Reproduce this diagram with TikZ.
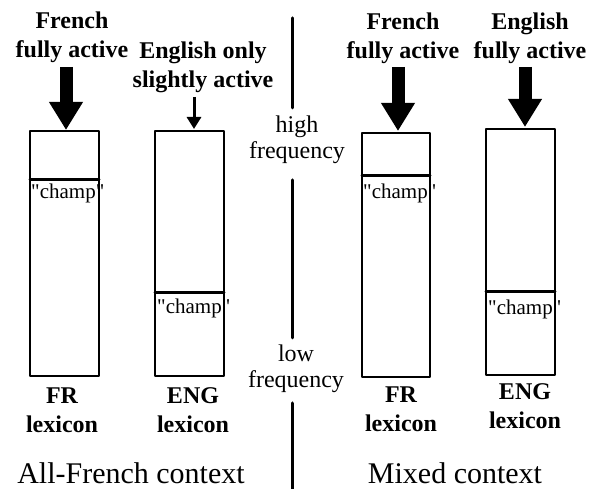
\documentclass[tikz,border=0pt]{standalone}
\usepackage{fontspec}
\setmainfont{Liberation Serif}
\usepackage{tikz}
\usepackage{tkz-euclide}
\usetikzlibrary{arrows.meta}

\newcommand{\champword}{\textquotedbl champ\textquotedbl}

\tikzset{
  lbl/.style={font=\fontsize{24}{29}\selectfont\bfseries, align=center, inner sep=0pt},
  freq/.style={font=\fontsize{24}{26}\selectfont, align=center, inner sep=0pt},
  ctx/.style={font=\fontsize{30}{34}\selectfont, inner sep=0pt},
  word/.style={font=\fontsize{21}{22}\selectfont, anchor=west, inner sep=0pt},
  bigarrow/.style={line width=13pt, -{Triangle[width=32pt,length=28pt]}},
  smallarrow/.style={line width=3pt, -{Triangle[width=14pt,length=12pt]}}
}

\begin{document}
\begin{tikzpicture}[x=1pt,y=1pt]
  \useasboundingbox (0,0) rectangle (590,489);

  % 1. Define points (the four lexicons)
  \tkzDefPoint(30,113){A1}  \tkzDefPoint(99,113){B1}
  \tkzDefPoint(99,358){C1}  \tkzDefPoint(30,358){D1}
  \tkzDefPoint(30,309){E1}  \tkzDefPoint(99,309){F1}

  \tkzDefPoint(155,113){A2} \tkzDefPoint(224,113){B2}
  \tkzDefPoint(224,358){C2} \tkzDefPoint(155,358){D2}
  \tkzDefPoint(155,196){E2} \tkzDefPoint(224,196){F2}

  \tkzDefPoint(362,112){A3} \tkzDefPoint(430,112){B3}
  \tkzDefPoint(430,356){C3} \tkzDefPoint(362,356){D3}
  \tkzDefPoint(362,313){E3} \tkzDefPoint(430,313){F3}

  \tkzDefPoint(486,114){A4} \tkzDefPoint(555,114){B4}
  \tkzDefPoint(555,360){C4} \tkzDefPoint(486,360){D4}
  \tkzDefPoint(486,197){E4} \tkzDefPoint(555,197){F4}

  % 2. Points for the arrows and the divider
  \tkzDefPoint(66,422){T1}  \tkzDefPoint(66,359){S1}
  \tkzDefPoint(194,392){T2} \tkzDefPoint(194,360){S2}
  \tkzDefPoint(398,422){T3} \tkzDefPoint(398,358){S3}
  \tkzDefPoint(525,422){T4} \tkzDefPoint(525,362){S4}

  \tkzDefPoint(292,471){G1} \tkzDefPoint(292,381){G2}
  \tkzDefPoint(292,309){G3} \tkzDefPoint(292,151){G4}
  \tkzDefPoint(292,86){G5}  \tkzDefPoint(292,0){G6}

  % 3. Draw the lexicons and the "champ" lines
  \tkzDrawPolygon[line width=1.3pt](A1,B1,C1,D1)
  \tkzDrawPolygon[line width=1.3pt](A2,B2,C2,D2)
  \tkzDrawPolygon[line width=1.3pt](A3,B3,C3,D3)
  \tkzDrawPolygon[line width=1.3pt](A4,B4,C4,D4)
  \tkzDrawSegments[line width=3pt](E1,F1 E2,F2 E3,F3 E4,F4)
  \tkzDrawSegments[line width=3pt](G1,G2 G3,G4 G5,G6)

  \node[word] (champA) at (31,296) {\champword};
  \node[word] (champB) at (157,181) {\champword};
  \node[word] (champC) at (363,296) {\champword};
  \node[word] (champD) at (488,180) {\champword};

  % 4. Labels and arrows
  \node[lbl] (frA) at (72,451.5) {French\\fully active};
  \node[lbl] (engA) at (203,422) {English only\\slightly active};
  \node[lbl] (frB) at (403,451) {French\\fully active};
  \node[lbl] (engB) at (530,451) {English\\fully active};

  \draw[bigarrow] (T1) -- (S1);
  \draw[smallarrow] (T2) -- (S2);
  \draw[bigarrow] (T3) -- (S3);
  \draw[bigarrow] (T4) -- (S4);

  \node[freq] (high) at (297,349.5) {high\\frequency};
  \node[freq] (low) at (296,120.5) {low\\frequency};

  \node[lbl] (lexA) at (62,79) {FR\\lexicon};
  \node[lbl] (lexB) at (193,79) {ENG\\lexicon};
  \node[lbl] (lexC) at (401,80) {FR\\lexicon};
  \node[lbl] (lexD) at (525,82.5) {ENG\\lexicon};

  \node[ctx] (ctxA) at (131,16) {All-French context};
  \node[ctx] (ctxB) at (455,16) {Mixed context};
\end{tikzpicture}
\end{document}
